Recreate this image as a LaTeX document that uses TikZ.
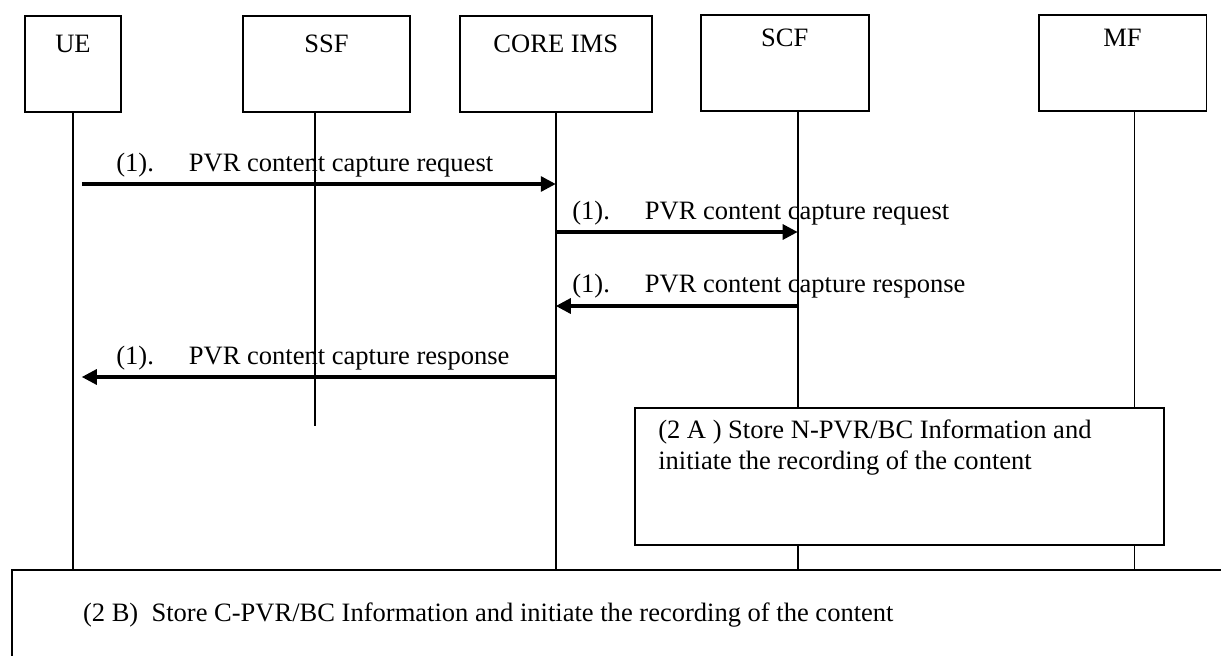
\documentclass[tikz,border=0pt]{standalone}
\usepackage{fontspec}
\setmainfont{Liberation Serif}
\usetikzlibrary{arrows.meta,positioning}
\tikzset{
  entity/.style={rectangle, draw, line width=1.1pt, fill=white,
                 minimum height=1.92cm, inner sep=0pt},
  entname/.style={anchor=north, inner sep=0pt, yshift=-11pt},
  lifeline/.style={line width=1.1pt},
  msg/.style={-{Triangle[length=0.3cm, width=0.3cm]}, line width=1.8pt},
  msgtxt/.style={anchor=base west, inner sep=0pt},
  note/.style={rectangle, draw, line width=1.1pt, fill=white,
               anchor=north west, inner sep=0pt},
  notetxt/.style={anchor=north west, inner sep=0pt, align=left},
}
\newcommand{\pvrmsg}[1]{(1).\hspace{0.7cm}#1}

\begin{document}
\begin{tikzpicture}[x=0.02cm, y=-0.02cm, font=\fontsize{15.1}{17.6}\selectfont]
  \useasboundingbox (0,0) rectangle (1221,656);
  % functional entities
  \node[entity, minimum width=1.92cm, label={[entname]north:UE}] (ue) at (73,64) {};
  \node[entity, minimum width=3.34cm, right=2.4cm of ue, label={[entname]north:SSF}] (ssf) {};
  \node[entity, minimum width=3.84cm, right=0.96cm of ssf, label={[entname]north:CORE IMS}] (core) {};
  \node[entity, minimum width=3.36cm, right=0.94cm of core, yshift=0.6pt,
        label={[entname, yshift=2.5pt]north:SCF}] (scf) {};
  \node[entity, minimum width=3.36cm, right=3.36cm of scf,
        label={[entname, yshift=2.5pt]north:MF}] (mf) {};

  % lifelines
  \coordinate (ue-l) at (ue.south);
  \coordinate (ssf-l) at ([xshift=-6.5pt]ssf.south);
  \coordinate (core-l) at (core.south);
  \coordinate (scf-l) at ([xshift=7.4pt]scf.south);
  \coordinate (mf-l) at ([xshift=6.8pt]mf.south);
  \coordinate (bot) at (0,569);
  \draw[lifeline] (ue-l) -- (ue-l |- bot);
  \draw[lifeline] (ssf-l) -- ++(0,313);
  \draw[lifeline] (core-l) -- (core-l |- bot);
  \draw[lifeline] (scf-l) -- (scf-l |- bot);
  \draw[lifeline] (mf-l) -- (mf-l |- bot);

  % messages
  \coordinate (r1) at (0,184);
  \coordinate (r2) at (0,232);
  \coordinate (r3) at (0,306);
  \coordinate (r4) at (0,377);
  \draw[msg, shorten <=5pt] (ue-l |- r1) -- (core-l |- r1);
  \node[msgtxt] (m1) at (116,171) {\pvrmsg{PVR content capture request}};
  \draw[msg] (core-l |- r2) -- (scf-l |- r2);
  \node[msgtxt] (m2) at (572,219) {\pvrmsg{PVR content capture request}};
  \draw[msg] (scf-l |- r3) -- (core-l |- r3);
  \node[msgtxt] (m3) at (572,292) {\pvrmsg{PVR content capture response}};
  \draw[msg, shorten >=5pt] (core-l |- r4) -- (ue-l |- r4);
  \node[msgtxt] (m4) at (116,364) {\pvrmsg{PVR content capture response}};

  % storing steps
  \node[note, minimum width=10.58cm, minimum height=2.74cm,
        label={[notetxt, xshift=13.6pt, yshift=-7.2pt]north west:{(2 A ) Store N-PVR/BC Information and\\initiate the recording of the content}}]
        (stA) at (634,407) {};
  \node[note, minimum width=24.6cm, minimum height=2cm,
        label={[notetxt, xshift=40.8pt, yshift=-19.1pt]north west:{(2 B)~ Store C-PVR/BC Information and initiate the recording of the content}}]
        (stB) at (11,569) {};
\end{tikzpicture}
\end{document}
